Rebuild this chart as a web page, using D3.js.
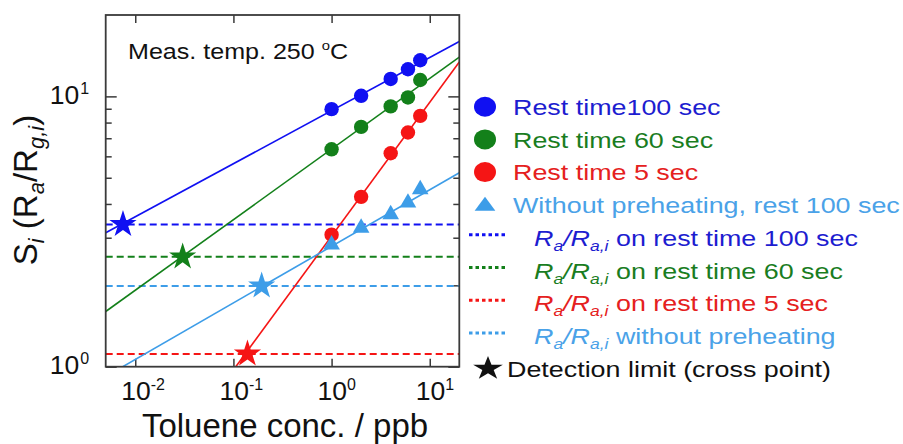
<!DOCTYPE html>
<html>
<head>
<meta charset="utf-8">
<script src="https://cdn.jsdelivr.net/npm/d3@7"></script>
<style>
  body { margin: 0; background: #fff; }
  svg { font-family: "Liberation Sans", Arial, sans-serif; }
  .axis .domain { display: none; }
  .axis .tick line { stroke: #3a3a3a; stroke-width: 1.5px; }
  .axis .tick text { fill: #111; font-size: 26.5px; font-family: "Liberation Sans", Arial, sans-serif; }
</style>
</head>
<body>
<svg width="903" height="444"></svg>
<script>
// toluene concentrations (ppb) and responses S_i
const conc = [1, 2, 4, 6, 8];
const rest100 = [8.97, 10.05, 11.6, 12.6, 13.6];
const rest60 = [6.37, 7.71, 9.18, 9.91, 11.5];
const rest5 = [3.08, 4.25, 6.16, 7.35, 8.47];
const noPreheat = [2.83, 3.26, 3.66, 4.04, 4.53];

// fitted lines, end points [conc, S]
const fit100 = [[0.005, 3.13], [20, 15.95]];
const fit60 = [[0.005, 1.6], [20, 13.96]];
const fit5 = [[0.1057, 1], [20, 13.4]];
const fitNoPre = [[0.00746, 1], [20, 5.22]];

// Ra/Ra,i levels and detection limits (cross points)
const baseLevel = [3.36, 2.55, 1.115, 1.99];
const limitConc = [0.0075, 0.0304, 0.139, 0.194];

const xTicks = [0.01, 0.1, 1, 10];
const xTickExp = ["-2", "-1", "0", "1"];
const yTicks = [1, 10];
const yTickExp = ["0", "1"];
const yMinor = [2, 3, 4, 5, 6, 7, 8, 9];

const seriesNames = ["Rest time100 sec", "Rest time 60 sec", "Rest time 5 sec", "Without preheating, rest 100 sec"];
const levelNames = ["on rest time 100 sec", "on rest time 60 sec", "on rest time 5 sec", "without preheating"];

const colors = ["#1010f2", "#13801a", "#f51515", "#3d9de8"];
const textColors = ["#1d1dd0", "#1a7d1f", "#e52020", "#4aa2e8"];

const svg = d3.select("svg");
const plot = {left: 105.7, right: 459.3, top: 15, bottom: 366.7};

const x = d3.scaleLog().domain([0.005, 20]).range([plot.left, plot.right]);
const y = d3.scaleLog().domain([1, 20]).range([plot.bottom, plot.top]);

// axes (ticks inward on all four sides)
const xb = svg.append("g").attr("class", "axis")
    .attr("transform", `translate(0,${plot.bottom})`)
    .call(d3.axisBottom(x).tickValues(xTicks).tickSize(-8).tickSizeOuter(0));
xb.selectAll(".tick text").each(function(d, i) {
  const t = d3.select(this).text("10")
      .attr("text-anchor", "start").attr("x", -14.5).attr("y", 33).attr("dy", null);
  t.append("tspan").attr("font-size", "16px").attr("dy", -10).text(xTickExp[i]);
});
svg.append("g").attr("class", "axis")
    .attr("transform", `translate(0,${plot.top})`)
    .call(d3.axisTop(x).tickValues(xTicks).tickSize(-8).tickSizeOuter(0).tickFormat(""));

const yl = svg.append("g").attr("class", "axis")
    .attr("transform", `translate(${plot.left},0)`)
    .call(d3.axisLeft(y).tickValues(yTicks).tickSize(-11).tickSizeOuter(0));
yl.selectAll(".tick text").each(function(d, i) {
  const t = d3.select(this).text("10")
      .attr("text-anchor", "start").attr("x", -56).attr("y", 7).attr("dy", null);
  t.append("tspan").attr("font-size", "16px").attr("dx", 1).attr("dy", -10).text(yTickExp[i]);
});
svg.append("g").attr("class", "axis")
    .attr("transform", `translate(${plot.left},0)`)
    .call(d3.axisLeft(y).tickValues(yMinor).tickSize(-6).tickSizeOuter(0).tickFormat(""));
svg.append("g").attr("class", "axis")
    .attr("transform", `translate(${plot.right},0)`)
    .call(d3.axisRight(y).tickValues(yTicks).tickSize(-11).tickSizeOuter(0).tickFormat(""));
svg.append("g").attr("class", "axis")
    .attr("transform", `translate(${plot.right},0)`)
    .call(d3.axisRight(y).tickValues(yMinor).tickSize(-6).tickSizeOuter(0).tickFormat(""));

// plot contents
svg.append("clipPath").attr("id", "clip")
  .append("rect")
    .attr("x", plot.left).attr("y", plot.top)
    .attr("width", plot.right - plot.left).attr("height", plot.bottom - plot.top);
const g = svg.append("g").attr("clip-path", "url(#clip)");

baseLevel.forEach((v, i) => {
  g.append("line")
      .attr("x1", x(0.005)).attr("x2", x(20))
      .attr("y1", y(v)).attr("y2", y(v))
      .attr("stroke", colors[i]).attr("stroke-width", 2)
      .attr("stroke-dasharray", "7,4");
});

const line = d3.line().x(d => x(d[0])).y(d => y(d[1]));
[fit100, fit60, fit5, fitNoPre].forEach((f, i) => {
  g.append("path").attr("d", line(f))
      .attr("fill", "none").attr("stroke", colors[i]).attr("stroke-width", 1.6);
});

[rest100, rest60, rest5].forEach((s, i) => {
  g.selectAll(null).data(s).enter().append("circle")
      .attr("cx", (d, j) => x(conc[j]))
      .attr("cy", d => y(d))
      .attr("r", 7.2)
      .attr("fill", colors[i]);
});
g.selectAll(null).data(noPreheat).enter().append("path")
    .attr("d", d3.symbol(d3.symbolTriangle, 120))
    .attr("transform", (d, j) => `translate(${x(conc[j])},${y(d)})`)
    .attr("fill", colors[3]);

g.selectAll(null).data(limitConc).enter().append("path")
    .attr("d", d3.symbol(d3.symbolStar, 230))
    .attr("transform", (d, i) => `translate(${x(d)},${y(baseLevel[i])})`)
    .attr("fill", (d, i) => colors[i]);

svg.append("rect")
    .attr("x", plot.left).attr("y", plot.top)
    .attr("width", plot.right - plot.left).attr("height", plot.bottom - plot.top)
    .attr("fill", "none").attr("stroke", "#3a3a3a").attr("stroke-width", 1.8);

// annotation
const ann = svg.append("text")
    .attr("transform", "translate(128,59.3) scale(1.14,1)")
    .attr("fill", "#111").style("font-size", "22px");
ann.append("tspan").text("Meas. temp. 250 ");
ann.append("tspan").attr("font-size", "13px").attr("dy", -9).text("o");
ann.append("tspan").attr("dy", 9).text("C");

// axis titles
svg.append("text")
    .attr("x", 285).attr("y", 436.7)
    .attr("text-anchor", "middle").attr("fill", "#111")
    .style("font-size", "33px")
    .text("Toluene conc. / ppb");

const yt = svg.append("text")
    .attr("transform", "translate(37,190) rotate(-90)")
    .attr("text-anchor", "middle").attr("fill", "#111")
    .style("font-size", "33px");
yt.append("tspan").text("S");
yt.append("tspan").attr("font-size", "22px").attr("font-style", "italic").attr("dy", 7).text("i");
yt.append("tspan").attr("dy", -7).text(" (R");
yt.append("tspan").attr("font-size", "22px").attr("font-style", "italic").attr("dy", 7).text("a");
yt.append("tspan").attr("dy", -7).text("/R");
yt.append("tspan").attr("font-size", "22px").attr("font-style", "italic").attr("dy", 7).text("g,i");
yt.append("tspan").attr("dy", -7).text(")");

// legend
const sx = 1.25;
const rowY = i => 115 + i * 32.7;
const leg = svg.append("g");

seriesNames.forEach((name, i) => {
  if (i < 3) {
    leg.append("ellipse")
        .attr("cx", 485).attr("cy", rowY(i) - 8.3)
        .attr("rx", 11).attr("ry", 10)
        .attr("fill", colors[i]);
  } else {
    leg.append("path")
        .attr("d", d3.symbol(d3.symbolTriangle, 115))
        .attr("transform", `translate(485,${rowY(i) - 7}) scale(1.27,1)`)
        .attr("fill", colors[i]);
  }
  leg.append("text")
      .attr("transform", `translate(513,${rowY(i)}) scale(${sx},1)`)
      .attr("fill", textColors[i]).style("font-size", "21.5px")
      .text(name);
});

levelNames.forEach((name, k) => {
  const i = k + 4;
  leg.append("line")
      .attr("x1", 469).attr("x2", 508)
      .attr("y1", rowY(i) - 11).attr("y2", rowY(i) - 11)
      .attr("stroke", colors[k]).attr("stroke-width", 3)
      .attr("stroke-dasharray", "3.5,3");
  const t = leg.append("text")
      .attr("transform", `translate(534,${rowY(i)}) scale(${sx},1)`)
      .attr("fill", textColors[k]).style("font-size", "21.5px");
  t.append("tspan").attr("font-style", "italic").text("R");
  t.append("tspan").attr("font-style", "italic").attr("font-size", "14px").attr("dy", 5).text("a");
  t.append("tspan").attr("font-style", "italic").attr("dy", -5).text("/R");
  t.append("tspan").attr("font-style", "italic").attr("font-size", "14px").attr("dy", 5).text("a,i");
  t.append("tspan").attr("dy", -5).text(" " + name);
});

leg.append("path")
    .attr("d", d3.symbol(d3.symbolStar, 175))
    .attr("transform", `translate(488,${rowY(8) - 8}) scale(1.25,1)`)
    .attr("fill", "#111");
leg.append("text")
    .attr("transform", `translate(507,${rowY(8)}) scale(${sx},1)`)
    .attr("fill", "#111").style("font-size", "21.5px")
    .text("Detection limit (cross point)");
</script>
</body>
</html>
